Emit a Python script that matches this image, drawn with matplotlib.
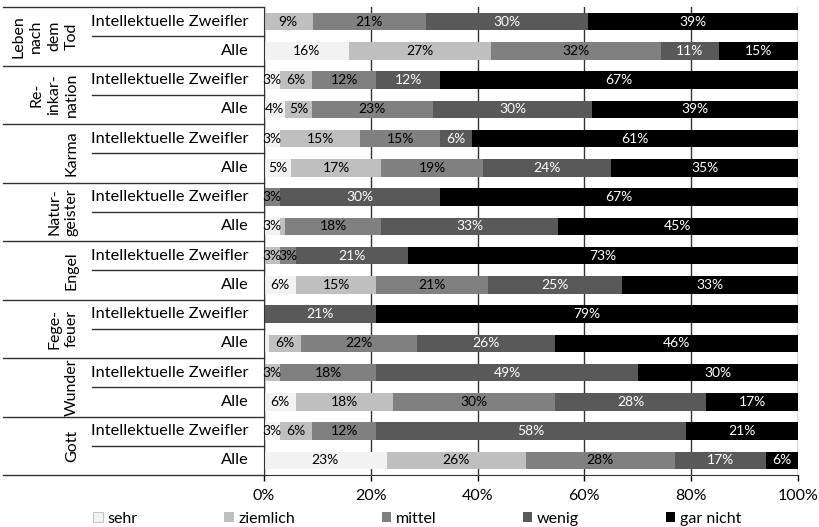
import numpy as np
import matplotlib
matplotlib.use("Agg")
import matplotlib.pyplot as plt
from matplotlib.patches import Patch
from matplotlib.transforms import blended_transform_factory

plt.rcParams['font.family'] = ['Lato', 'DejaVu Sans']

# groups (top to bottom), each with two rows
groups = ["Leben\nnach\ndem\nTod", "Re-\ninkar-\nnation", "Karma", "Natur-\ngeister",
          "Engel", "Fege-\nfeuer", "Wunder", "Gott"]
row_labels = ["Intellektuelle Zweifler", "Alle"] * len(groups)

categories = ["sehr", "ziemlich", "mittel", "wenig", "gar nicht"]
sehr      = [0, 16, 3, 4, 3, 5, 0, 3, 0, 6, 0, 1, 0, 6, 3, 23]
ziemlich  = [9, 27, 6, 5, 15, 17, 0, 1, 3, 15, 0, 6, 3, 18, 6, 26]
mittel    = [21, 32, 12, 23, 15, 19, 3, 18, 3, 21, 0, 22, 18, 30, 12, 28]
wenig     = [30, 11, 12, 30, 6, 24, 30, 33, 21, 25, 21, 26, 49, 28, 58, 17]
gar_nicht = [39, 15, 67, 39, 61, 35, 67, 45, 73, 33, 79, 46, 30, 17, 21, 6]

colors = ["#f2f2f2", "#bfbfbf", "#808080", "#595959", "#000000"]
text_colors = ["black", "black", "black", "white", "white"]

series = np.array([sehr, ziemlich, mittel, wenig, gar_nicht], dtype=float)
shares = series / series.sum(axis=0)   # 100% stacked, like the original
n = series.shape[1]
y = np.arange(n)

fig = plt.figure(figsize=(8.2, 5.27), dpi=100)
ax = fig.add_axes([264 / 820, 1 - 475 / 527, (798 - 264) / 820, (475 - 7) / 527])

left = np.zeros(n)
for i, name in enumerate(categories):
    ax.barh(y, shares[i], left=left, height=0.6, color=colors[i], label=name, zorder=2)
    for j in range(n):
        v = series[i, j]
        if v >= 3:
            ax.text(left[j] + shares[i, j] / 2, y[j], f"{int(v)}%", ha='center', va='center',
                    color=text_colors[i], fontsize=10, zorder=3)
    left += shares[i]

ax.set_xlim(0, 1)
ax.set_ylim(n - 0.5, -0.5)
ax.set_xticks(np.arange(0, 1.01, 0.2))
ax.set_xticklabels([f"{int(t * 100)}%" for t in np.arange(0, 1.01, 0.2)], fontsize=11.5)
ax.set_yticks([])
ax.xaxis.grid(True, color="#333333", linewidth=1, zorder=0)
ax.set_axisbelow(True)
ax.tick_params(axis='x', direction='out', length=4, width=1, pad=6)
for s in ['top', 'right']:
    ax.spines[s].set_visible(False)
ax.spines['left'].set_color("#333333")
ax.spines['bottom'].set_color("#333333")

# label table on the left
tr = blended_transform_factory(fig.transFigure, ax.transData)
x_axis = 264 / 820
for k in range(len(groups) + 1):
    ax.plot([3 / 820, x_axis], [2 * k - 0.5] * 2, color="#333333", lw=1,
            transform=tr, clip_on=False)
for k in range(len(groups)):
    ax.plot([92 / 820, x_axis], [2 * k + 0.5] * 2, color="#333333", lw=1,
            transform=tr, clip_on=False)
    ax.text(79 / 820, 2 * k + 0.5, groups[k], rotation=90, ha='right', va='center',
            multialignment='center', fontsize=11.5, linespacing=1.35, transform=tr)
for j in range(n):
    ax.text(249 / 820, y[j], row_labels[j], ha='right', va='center', fontsize=11.8, transform=tr)

handles = [Patch(facecolor=c, edgecolor='#bbbbbb' if i == 0 else 'none', linewidth=0.6)
           for i, c in enumerate(colors)]
fig.legend(handles, categories, loc='center', bbox_to_anchor=(0.509, 1 - 519 / 527),
           ncol=5, frameon=False, fontsize=11.5, handlelength=0.6, handleheight=0.6,
           handletextpad=0.3, columnspacing=5.4)

fig.savefig("out.png", dpi=100)
